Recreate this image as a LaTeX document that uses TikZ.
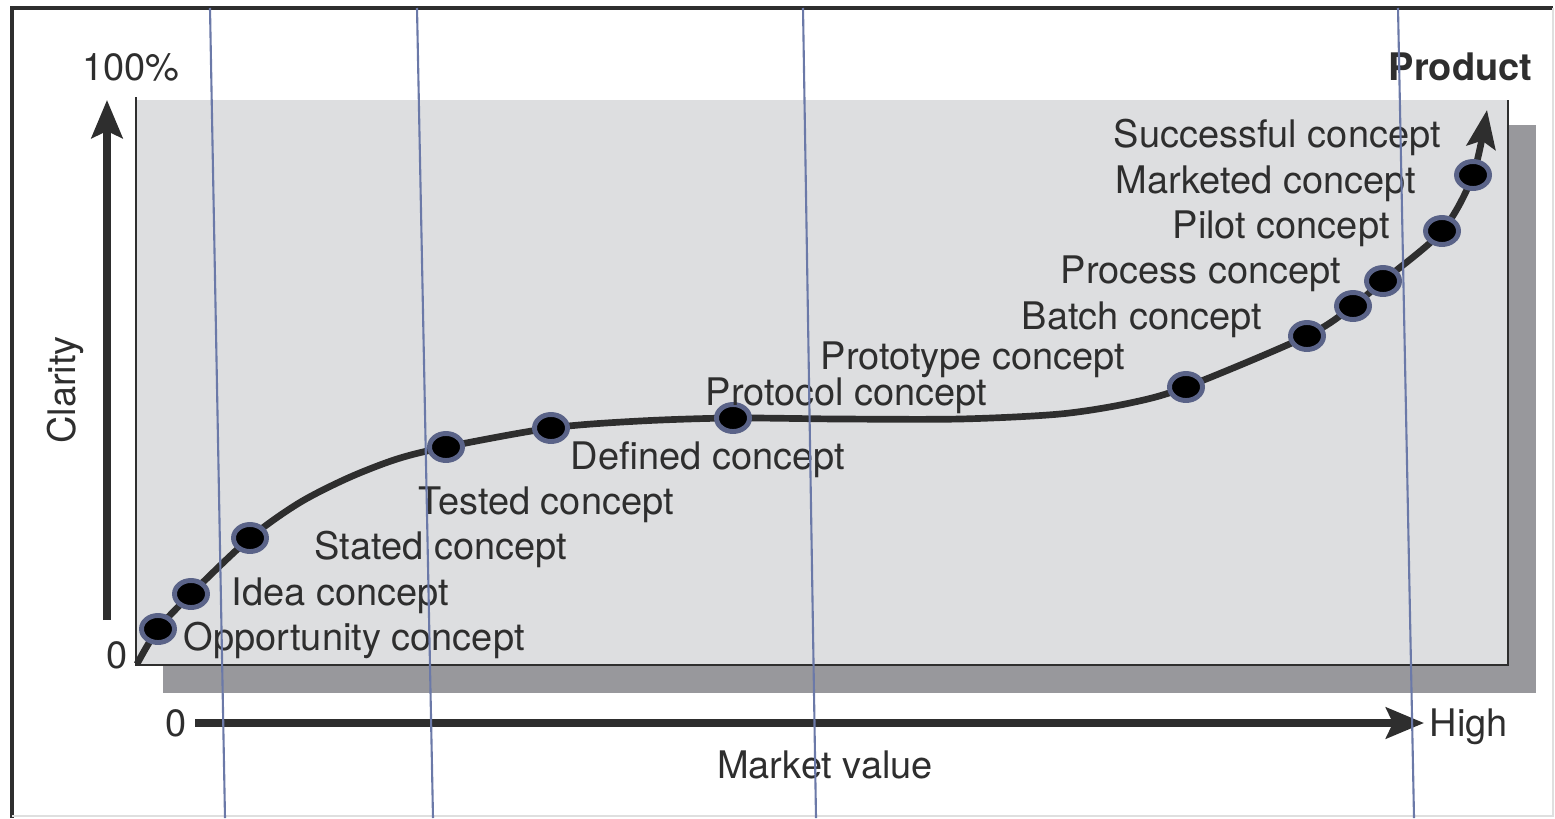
\documentclass[tikz,border=0pt]{standalone}
\usepackage{fontspec}
\setmainfont{TeX Gyre Heros}
\usetikzlibrary{arrows.meta,shapes.geometric}

\definecolor{inkgray}{HTML}{2E2E2E}
\definecolor{panelgray}{HTML}{DDDEE0}
\definecolor{shadegray}{HTML}{98989C}
\definecolor{rimblue}{HTML}{5A6388}
\definecolor{guideblue}{HTML}{6B79A8}

\begin{document}
\begin{tikzpicture}
        [x=0.01cm, y=-0.01cm,
        every node/.style={font=\fontsize{10.8pt}{13pt}\selectfont, text=inkgray, inner sep=0pt},
        lbl/.style={anchor=base west},
        dot/.style={ellipse, draw=rimblue, fill=black, line width=1.4pt, minimum width=0.33cm, minimum height=0.27cm},
        axis/.style={inkgray, line width=2pt, -{Stealth[length=0.38cm, width=0.31cm, inset=0.07cm]}},
        curve/.style={inkgray, line width=1.9pt, -{Stealth[length=0.38cm, width=0.29cm, inset=0.07cm]}},
        guide/.style={guideblue, line width=0.6pt}]
        \useasboundingbox (0,0) rectangle (1555,818);

        % outer frame
        \draw[inkgray, line width=0.9pt] (12,818) -- (12,8) -- (1553,8);
        \draw[gray!25, line width=0.4pt] (1553,8) -- (1553,816) -- (12,816);

        % panel with its shadow
        \fill[shadegray] (163,125) rectangle (1536,693);
        \fill[panelgray] (136,100) rectangle (1508,665);
        \draw[inkgray, line width=0.6pt] (136,97) -- (136,665) -- (1508,665) -- (1508,100);

        % axes
        \coordinate (yfoot) at (107,620);
        \coordinate (ytip) at (107,100);
        \coordinate (xfoot) at (195,723);
        \coordinate (xtip) at (1424,723);
        \draw[axis] (yfoot) -- (ytip);
        \draw[axis] (xfoot) -- (xtip);

        \node[anchor=base] (top) at (131,80) {100\%};
        \node[anchor=base] (yzero) at (117,668) {0};
        \node[anchor=base] (xzero) at (176,736) {0};
        \node[anchor=base west] (high) at (1429,736) {High};
        \node[anchor=base] (market) at (825,778) {Market value};
        \node[rotate=90] (clarity) at (65,390) {Clarity};
        \node[anchor=base east] (product) at (1533,80) {\bfseries Product};

        % stages along the curve
        \coordinate (origin) at (137,664);
        \foreach \name/\x/\y in {opp/158/629, idea/191/594, stated/250/538, tested/446/447,
                defined/551/428, protocol/733/418, prototype/1186/387, batch/1307/336,
                process/1353/306, pilot/1383/281, marketed/1442/231, successful/1473/175}
            \coordinate (\name) at (\x,\y);
        % extra points to keep the curve smooth
        \coordinate (riseA) at (299,503);
        \coordinate (riseB) at (348,478);
        \coordinate (riseC) at (397,459);
        \coordinate (flatA) at (640,421);
        \coordinate (flatB) at (840,419);
        \coordinate (flatC) at (960,419);
        \coordinate (flatD) at (1060,414);
        \coordinate (flatE) at (1130,403);
        \coordinate (end) at (1487,110);

        \draw[curve] plot[smooth, tension=0.5] coordinates {(origin) (opp) (idea) (stated) (riseA) (riseB)
                (riseC) (tested) (defined) (flatA) (protocol) (flatB) (flatC) (flatD) (flatE) (prototype)
                (batch) (process) (pilot) (marketed) (successful) (end)};

        \foreach \name in {opp, idea, stated, tested, defined, protocol, prototype, batch,
                process, pilot, marketed, successful}
            \node[dot] (\name-dot) at (\name) {};

        \node[lbl] (opp-lbl) at (183,650) {Opportunity concept};
        \node[lbl] (idea-lbl) at (231,605) {Idea concept};
        \node[lbl] (stated-lbl) at (314,559) {Stated concept};
        \node[lbl] (tested-lbl) at (418,514) {Tested concept};
        \node[lbl] (defined-lbl) at (570,469) {Defined concept};
        \node[lbl] (protocol-lbl) at (705,405) {Protocol concept};
        \node[lbl] (prototype-lbl) at (820,369) {Prototype concept};
        \node[lbl] (batch-lbl) at (1021,329) {Batch concept};
        \node[lbl] (process-lbl) at (1060,283) {Process concept};
        \node[lbl] (pilot-lbl) at (1172,238) {Pilot concept};
        \node[lbl] (marketed-lbl) at (1115,193) {Marketed concept};
        \node[lbl] (successful-lbl) at (1113,147) {Successful concept};

        % thin vertical rules across the sheet
        \draw[guide] (210,8) -- (225,818);
        \draw[guide] (417,8) -- (433,818);
        \draw[guide] (803,8) -- (816,818);
        \draw[guide] (1398,8) -- (1414,818);

    \end{tikzpicture}
\end{document}
